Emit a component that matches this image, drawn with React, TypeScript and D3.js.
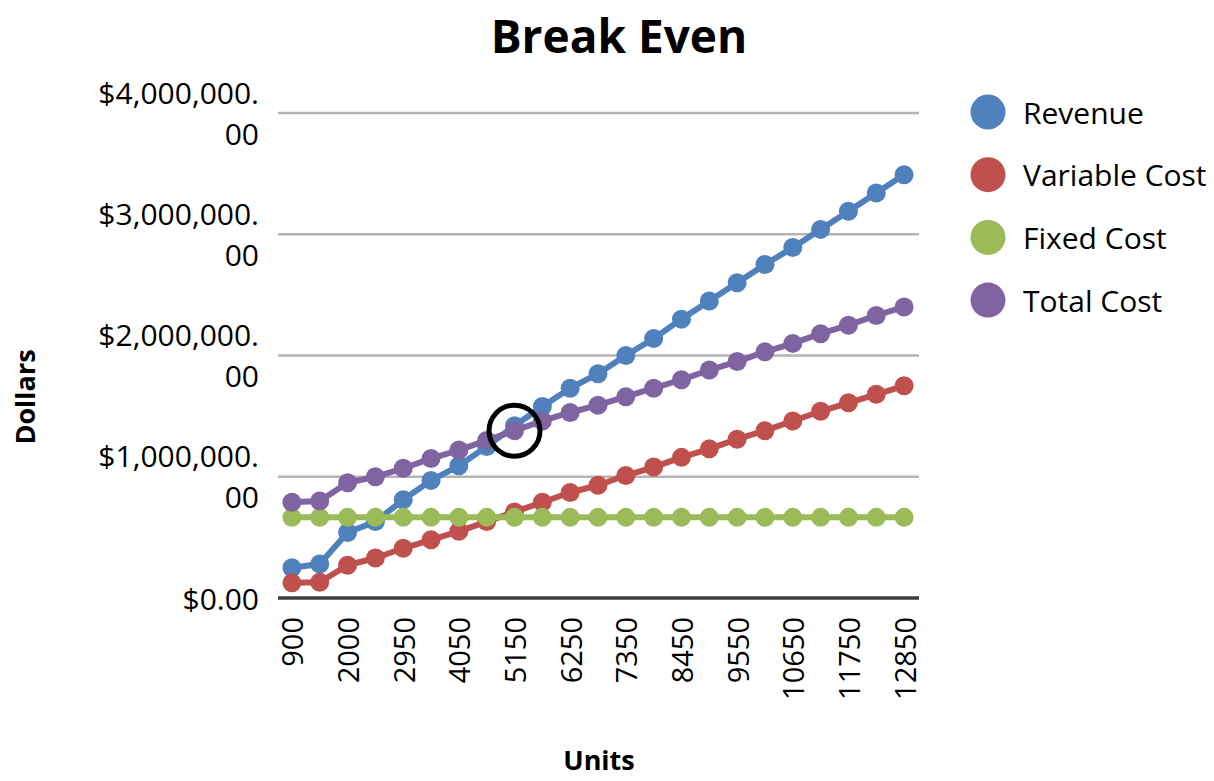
import React from "react";
import * as d3 from "d3";

const categories = ["900", "1000", "2000", "2400", "2950", "3500", "4050", "4600", "5150", "5700", "6250", "6800", "7350", "7900", "8450", "9000", "9550", "10100", "10650", "11200", "11750", "12300", "12850"];
const revenue = [250000, 280000, 540000, 630000, 810000, 970000, 1090000, 1250000, 1420000, 1580000, 1730000, 1850000, 2000000, 2140000, 2300000, 2450000, 2600000, 2750000, 2890000, 3040000, 3190000, 3340000, 3490000];
const variableCost = [125000, 130000, 270000, 330000, 410000, 480000, 550000, 630000, 710000, 790000, 870000, 930000, 1010000, 1080000, 1160000, 1230000, 1310000, 1380000, 1460000, 1540000, 1610000, 1680000, 1750000];
const fixedCost = [665000, 665000, 665000, 665000, 665000, 665000, 665000, 665000, 665000, 665000, 665000, 665000, 665000, 665000, 665000, 665000, 665000, 665000, 665000, 665000, 665000, 665000, 665000];
const totalCost = [790000, 800000, 950000, 1000000, 1070000, 1150000, 1220000, 1300000, 1380000, 1460000, 1530000, 1590000, 1660000, 1730000, 1800000, 1880000, 1950000, 2030000, 2100000, 2180000, 2250000, 2330000, 2400000];
const yTicks = [0, 1000000, 2000000, 3000000, 4000000];
const seriesNames = ["Revenue", "Variable Cost", "Fixed Cost", "Total Cost"];
const seriesColors = ["#4F81BD", "#C0504D", "#9BBB59", "#8064A2"];
const breakEvenIndex = 8;

const FONT = "'Open Sans', 'Noto Sans', sans-serif";

export default function App() {
  const W = 1214, H = 781;
  const left = 278, right = 918, top = 113, bottom = 598;
  const x = d3.scalePoint<string>().domain(categories).range([left, right]).padding(0.5);
  const y = d3.scaleLinear().domain([0, 4000000]).range([bottom, top]);
  const line = d3.line<number>().x((_, i) => x(categories[i]) as number).y((d) => y(d));
  const allSeries = [revenue, variableCost, fixedCost, totalCost];

  const fmt = (v: number) => {
    const s = "$" + d3.format(",.2f")(v);
    if (v === 0) return [s];
    const dot = s.indexOf(".");
    return [s.slice(0, dot + 1), s.slice(dot + 1)];
  };

  return (
    <svg width={W} height={H} style={{ position: "absolute", left: 0, top: 0, background: "#fff" }} fontFamily={FONT}>
      <text x={619} y={53} textAnchor="middle" fontSize={46} fontWeight="bold" fill="#000">Break Even</text>
      {yTicks.map((t) => (
        <g key={t}>
          {t !== 0 && <line x1={left} x2={right + 1} y1={y(t)} y2={y(t)} stroke="#B4B4B4" strokeWidth={2.5} />}
          {fmt(t).map((ln, j, arr) => (
            <text key={j} x={259} y={y(t) + (arr.length === 1 ? 0 : j === 0 ? -21 : 20)} textAnchor="end" dominantBaseline="central" fontSize={30} fill="#000">{ln}</text>
          ))}
        </g>
      ))}
      <line x1={left} x2={right + 1} y1={bottom} y2={bottom} stroke="#3F3F3F" strokeWidth={3.5} />
      {categories.map((c, i) => i % 2 === 0 ? (
        <text key={c} transform={`translate(${x(c)},${617}) rotate(-90)`} textAnchor="end" dominantBaseline="central" fontSize={29} fill="#000">{c}</text>
      ) : null)}
      {allSeries.map((s, si) => (
        <g key={si}>
          <path d={line(s) as string} fill="none" stroke={seriesColors[si]} strokeWidth={6} strokeLinejoin="round" />
          {s.map((v, i) => (
            <circle key={i} cx={x(categories[i])} cy={y(v)} r={9.5} fill={seriesColors[si]} />
          ))}
        </g>
      ))}
      <circle cx={x(categories[breakEvenIndex])} cy={y(totalCost[breakEvenIndex])} r={25.5} fill="none" stroke="#000" strokeWidth={5} />
      <text transform={`translate(${35},${397}) rotate(-90)`} textAnchor="middle" fontSize={27} fontWeight="bold" fill="#000">Dollars</text>
      <text x={599} y={770} textAnchor="middle" fontSize={27} fontWeight="bold" fill="#000">Units</text>
      {seriesNames.map((n, i) => (
        <g key={n}>
          <circle cx={988} cy={112 + i * 62.7} r={17.5} fill={seriesColors[i]} />
          <text x={1023} y={112 + i * 62.7} dominantBaseline="central" fontSize={30} fill="#000">{n}</text>
        </g>
      ))}
    </svg>
  );
}
